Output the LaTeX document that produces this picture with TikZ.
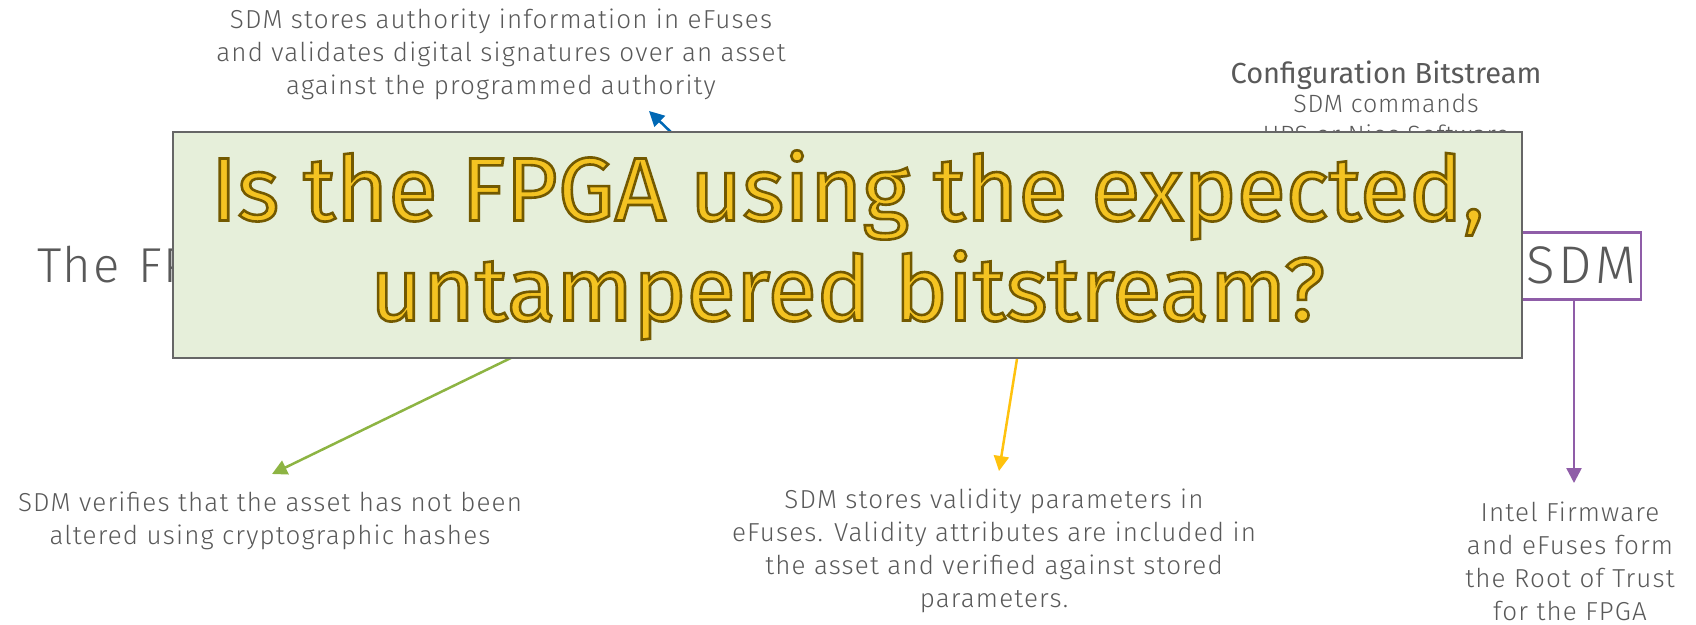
\documentclass[tikz,border=0pt]{standalone}
\usepackage{fontspec}
\setmainfont{Fira Sans Light}
\newfontfamily\regfont{Fira Sans}
\newfontfamily\widefont{Fira Sans Light}[LetterSpace=3, WordSpace=1.25]
\usetikzlibrary{arrows.meta}

\definecolor{txt}{HTML}{595959}
\definecolor{boxfill}{HTML}{E6EFDA}
\definecolor{boxline}{HTML}{666666}
\definecolor{iblue}{HTML}{0068B5}
\definecolor{igreen}{HTML}{8DB443}
\definecolor{iyellow}{HTML}{FFC20E}
\definecolor{ipurple}{HTML}{8F5DA8}
\definecolor{gold}{HTML}{F4C322}

% filled and stroked glyphs for the headline question
\newcommand\goldtext[1]{\special{pdf:code q 2 Tr 2.6 w 0.45 0.35 0 RG}#1\special{pdf:code Q}}

\tikzset{
  note/.style={text=txt, align=center, inner sep=0pt,
    font=\fontsize{26}{33}\selectfont\addfontfeatures{LetterSpace=4.5}},
  sub/.style={text=txt, anchor=base, inner sep=0pt,
    font=\fontsize{25}{30}\selectfont\addfontfeatures{LetterSpace=3}},
  link/.style={line width=2.5pt, -{Triangle[length=15pt,width=15pt]}},
  question/.style={draw=boxline, line width=2pt, fill=boxfill,
    minimum width=1349pt, minimum height=226pt, inner sep=0pt,
    align=center, text=gold, font=\regfont\fontsize{90}{100}\selectfont},
}

\begin{document}
\begin{tikzpicture}[x=1pt,y=-1pt]
\useasboundingbox (0,0) rectangle (1696,624);

% items partly covered by the question box
\node[anchor=base west, text=txt, inner sep=0pt,
  font=\widefont\fontsize{49}{60}\selectfont] (fpga) at (37,282) {The FPGA};
\node[anchor=base, text=txt, inner sep=0pt,
  font=\regfont\fontsize{29}{34}\selectfont] (cfg) at (1386,83) {Configuration Bitstream};
\node[sub] (cmd) at (1386,112) {SDM commands};
\node[sub] (hps) at (1386,143) {HPS or Nios Software};

\node[draw=ipurple, line width=2.5pt, anchor=north east, minimum width=200pt,
  minimum height=67pt, inner sep=0pt] (sdm) at (1642,231) {};
\node[anchor=base east, text=txt, inner sep=0pt,
  font=\fontsize{53}{60}\selectfont\addfontfeatures{LetterSpace=6}] (sdmlbl) at (1636,283) {SDM};

% arrow ends
\coordinate (bS) at (700,160);
\coordinate (bE) at (649,111);
\coordinate (gS) at (550,339);
\coordinate (gE) at (272,474);
\coordinate (yS) at (1020,340);
\coordinate (yE) at (999,471);
\coordinate (pE) at (1574,483);

\draw[link, iblue] (bS) -- (bE);
\draw[link, igreen] (gS) -- (gE);
\draw[link, iyellow] (yS) -- (yE);
\draw[link, ipurple] (sdm.south -| pE) -- (pE);

% the question box
\node[question] (q) at (847.5,245)
  {\goldtext{Is the FPGA using the expected,}\\\goldtext{untampered bitstream?}};

% captions (anchored at the baseline of their last line)
\node[note, anchor=base] (auth) at (501,94)
  {SDM stores authority information in eFuses\\and  validates digital signatures over an asset\\against the programmed authority};
\node[note, anchor=base] (hash) at (270,544)
  {SDM verifies that the asset has not been\\altered using cryptographic hashes};
\node[note, anchor=base] (valid) at (994,607)
  {SDM stores validity parameters in\\eFuses. Validity attributes are included in\\the asset and verified against stored\\parameters.};
\node[note, anchor=base] (root) at (1570,620)
  {Intel Firmware\\and eFuses form\\the Root of Trust\\for the FPGA};
\end{tikzpicture}
\end{document}
